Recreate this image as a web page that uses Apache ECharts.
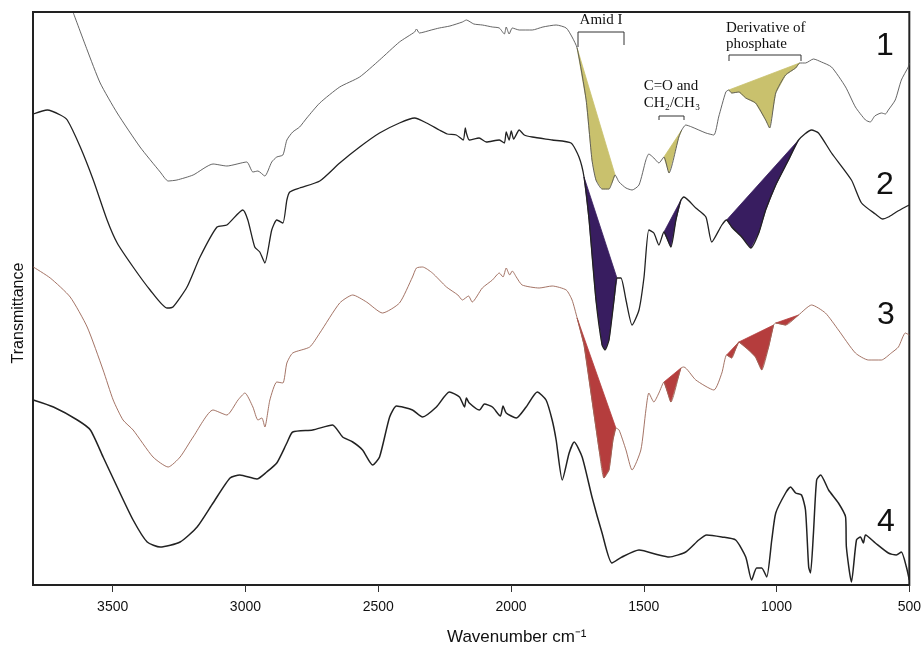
<!DOCTYPE html>
<html>
<head>
<meta charset="utf-8">
<script src="https://cdn.jsdelivr.net/npm/echarts@6/dist/echarts.min.js"></script>
<style>
html,body{margin:0;padding:0;background:#fff;}
#chart{width:924px;height:646px;}
</style>
</head>
<body>
<div id="chart"></div>
<script>
// x: wavenumber (cm-1), y: transmittance (arbitrary units, spectra offset vertically)
const ticks = [3500, 3000, 2500, 2000, 1500, 1000, 500];
const labels = ['1', '2', '3', '4'];

const spec1 = [
[3648,114.4],[3596,107],[3547,100.4],[3483,94.4],[3397,87.6],[3321,82.6],[3291,80.8],[3258,81],[3197,82],[3122,84.2],
[3070,83.8],[2995,84.6],[2972,82.6],[2953,82.8],[2927,81.8],[2901,84.6],[2882,85.6],[2859,86],[2844,89],[2822,90.6],
[2796,91.6],[2769,93.4],[2720,96.4],[2645,99.6],[2570,101.6],[2495,105],[2420,108.6],[2363,110.6],[2356,111.2],[2345,110.4],
[2300,111],[2270,111.4],[2230,111.8],[2183,112.6],[2168,113],[2140,112.2],[2108,112],[2070,111.6],[2044,111.4],[2025,110.2],[2018,111.6],[2007,110.2],[1995,111.4],
[1969,111],[1920,111],[1880,111.6],[1830,112],[1792,111.4],[1770,109.6],[1751,107.4],[1717,97],[1695,85],[1680,81],[1657,79.2],
[1631,79.2],[1620,80.4],[1608,82],[1593,80.6],[1567,79.4],[1544,79],[1518,80],[1492,85],[1481,86.2],[1462,85.4],
[1443,84.4],[1424,85.6],[1405,82.4],[1368,89.6],[1357,91],[1342,92],[1319,91.6],[1266,90.4],[1236,90],[1218,93.6],
[1191,98.6],[1180,99],[1169,98.4],[1142,98.6],[1116,97.4],[1079,96.4],[1041,93],[1026,91.4],[1003,98.4],[966,102],
[928,103.4],[913,104.4],[891,104.4],[861,105.2],[831,104.6],[793,103.6],[740,99.6],[703,95.6],[665,93],[647,92.6],
[630,93.8],[605,94.4],[590,94.2],[579,95],[553,97],[530,101],[504,103.6],[500,104.4]
];

const spec2 = [
[3799,94.2],[3746,95],[3697,94],[3671,93],[3622,87.6],[3573,81],[3521,73],[3483,68.4],[3423,63.6],[3359,59],
[3295,55.4],[3273,55.6],[3220,59.6],[3171,65.6],[3107,71.6],[3070,72],[3010,75],[2991,73],[2965,67.6],[2946,66.6],
[2927,64.4],[2901,71],[2882,73],[2859,72.4],[2844,77],[2833,78.6],[2796,79.4],[2720,80.8],[2645,84.4],[2570,87.6],
[2495,90.4],[2420,92.4],[2363,93.4],[2318,92.4],[2270,91],[2240,90.2],[2206,90],[2180,89],[2172,91.4],[2168,90.4],[2157,89],[2120,89.4],[2093,88.6],
[2044,89],[2025,88.4],[2018,90.6],[2007,89],[1999,90.8],[1990,89.2],[1969,91],[1950,90],[1920,89.6],[1845,89],[1774,88.4],[1744,85.6],
[1725,81.6],[1706,73],[1680,57],[1657,48],[1646,47],[1631,49],[1612,57],[1601,61.4],[1586,61.4],[1567,57],
[1544,52],[1518,55],[1499,61.6],[1481,71],[1462,70.4],[1443,68],[1424,70.6],[1398,67.6],[1379,73],[1360,77],
[1349,77.6],[1304,75.4],[1266,73.6],[1244,68.6],[1206,72],[1188,73],[1169,71.6],[1131,69.6],[1097,67.4],[1067,70.4],
[1041,75],[1003,80],[955,85],[917,89],[868,91],[842,90.4],[793,86.4],[718,81],[680,76.4],[628,74.2],
[600,73.2],[579,73.6],[549,74.6],[515,75.6],[500,76]
];

const spec3 = [
[3799,63.6],[3735,61.4],[3660,57.6],[3596,51.6],[3536,43],[3498,37],[3461,33],[3423,31],[3348,25.6],[3291,23.6],
[3246,25.6],[3197,29.6],[3122,35],[3070,34],[3028,37],[3002,38.4],[2972,35.6],[2953,33],[2938,33.4],[2927,31.6],
[2908,37],[2882,40.6],[2859,40.4],[2844,44.4],[2822,46.4],[2758,47.6],[2720,50.4],[2645,56.4],[2596,58],[2544,56.6],
[2484,54.4],[2420,56.4],[2371,61.6],[2356,63.4],[2333,63.6],[2296,62.4],[2243,59.6],[2200,58],[2183,57],[2160,57.8],[2146,56.6],
[2108,59.4],[2070,61],[2044,62.4],[2030,61.6],[2018,63.4],[2005,62],[1995,62.8],[1980,61.6],[1958,60],[1894,59.4],[1845,59.8],[1792,59],[1770,57],
[1751,53.4],[1725,48],[1695,37],[1668,27],[1650,21.4],[1631,23],[1616,29],[1605,31.4],[1593,31],[1567,27],
[1544,23],[1511,27],[1492,35],[1481,38.4],[1462,36.6],[1443,38.4],[1424,40.6],[1398,36.6],[1360,43.4],[1349,43.6],
[1304,41],[1236,39],[1206,42.4],[1188,46],[1169,45.4],[1142,48.6],[1105,47],[1079,45.6],[1056,43],[1030,47.6],
[1011,52],[1003,52.4],[966,52],[917,54],[868,56],[816,54.4],[767,51],[703,46.4],[654,45],[605,45],
[568,46.4],[541,47.6],[515,50.4],[500,50]
];

const spec4 = [
[3799,37],[3723,35.6],[3633,33],[3584,31],[3536,25.6],[3483,19.6],[3423,13],[3370,8.6],[3321,7.6],[3246,8.6],
[3182,11.6],[3122,16.4],[3058,21.4],[3021,22],[2957,21.2],[2920,22.6],[2882,24.4],[2844,28.4],[2822,30.6],[2747,31],
[2672,32],[2634,29.6],[2596,28.6],[2559,27],[2521,24],[2495,25.6],[2457,33.6],[2431,35.8],[2371,35],[2333,33.6],
[2281,35.6],[2232,38.6],[2194,37.6],[2175,35.6],[2168,37.4],[2157,36.4],[2119,35],[2100,36.2],[2070,35.6],[2040,33.8],[2030,35.8],[2018,34.4],[1980,33.4],[1943,35.6],
[1901,38.6],[1868,37],[1845,33],[1830,29],[1807,21],[1781,26.4],[1762,28.6],[1732,25.6],[1695,17.6],[1657,10.4],
[1620,4.4],[1582,5.6],[1518,7],[1443,6],[1405,5.6],[1342,6.6],[1293,9],[1263,10],[1206,9.6],[1154,9],
[1116,5.6],[1094,1],[1075,3.4],[1056,3.4],[1037,1.6],[1018,9],[1003,14.4],[966,18.4],[947,19.6],[928,18.4],
[906,18],[891,15],[879,3.6],[872,2.4],[861,10.4],[849,21],[834,22],[804,19],[767,16.4],[740,13.6],
[737,7.6],[718,0.6],[699,9],[684,9.6],[673,8.4],[665,10],[628,8.4],[579,6.4],[549,6],[530,6.6],
[511,3.6],[500,1]
];

// shaded bands: [from, to] wavenumbers, closed by a straight chord
const fill1 = [[1751,1608],[1424,1357],[1180,913]];
const fill2 = [[1725,1601],[1424,1360],[1188,917]];
const fill3 = [[1751,1605],[1424,1360],[1188,1142],[1142,1011],[1003,917]];

function polys(spec, ranges) {
  return ranges.map(([a, b]) => spec.filter(p => p[0] <= a && p[0] >= b));
}

function fillSeries(spec, ranges, color) {
  return polys(spec, ranges).map(poly => ({
    type: 'custom',
    z: 1,
    silent: true,
    data: [poly[0]],
    renderItem: function (params, api) {
      return {
        type: 'polygon',
        shape: { points: poly.map(p => api.coord(p)) },
        style: { fill: color, stroke: color, lineWidth: 0.8 }
      };
    }
  }));
}

function lineSeries(spec, color, width) {
  return { type: 'line', data: spec, showSymbol: false, smooth: 0.2, z: 3,
    lineStyle: { color: color, width: width }, silent: true };
}

const chart = echarts.init(document.getElementById('chart'), null, { renderer: 'canvas' });
const serif = '"Liberation Serif", "Times New Roman", serif';
const sans = '"Liberation Sans", Arial, sans-serif';

chart.setOption({
  animation: false,
  backgroundColor: '#ffffff',
  grid: { left: 33, right: 13, top: 12, bottom: 61, show: true, borderColor: '#222', borderWidth: 2, backgroundColor: 'transparent' },
  xAxis: {
    type: 'value', min: 500, max: 3800, inverse: true, interval: 500,
    axisLine: { show: false },
    axisTick: { show: true, length: 7, lineStyle: { color: '#333', width: 1 }, customValues: ticks },
    axisLabel: { customValues: ticks, margin: 15, fontSize: 14, color: '#111', fontFamily: sans,
      formatter: function (v) { return String(v); } },
    splitLine: { show: false }
  },
  yAxis: {
    type: 'value', min: 0, max: 114.6,
    axisLine: { show: false }, axisTick: { show: false }, axisLabel: { show: false }, splitLine: { show: false }
  },
  series: [
    ...fillSeries(spec1, fill1, '#c9c16d'),
    ...fillSeries(spec2, fill2, '#381d60'),
    ...fillSeries(spec3, fill3, '#b53d3d'),
    lineSeries(spec1, '#555555', 0.9),
    lineSeries(spec2, '#222222', 1.3),
    lineSeries(spec3, '#9a6455', 0.9),
    lineSeries(spec4, '#222222', 1.5)
  ],
  graphic: [
    { type: 'text', x: 601, y: 20, style: { text: 'Amid I', font: '15px ' + serif, fill: '#111', textAlign: 'center', textVerticalAlign: 'middle' } },
    { type: 'polyline', shape: { points: [[578,47],[578,32],[624,32],[624,45]] }, style: { stroke: '#333', lineWidth: 1, fill: null } },
    { type: 'text', x: 671, y: 86, style: { text: 'C=O and', font: '15px ' + serif, fill: '#111', textAlign: 'center', textVerticalAlign: 'middle' } },
    { type: 'text', x: 672, y: 103, style: { text: 'CH₂/CH₃', font: '15px ' + serif, fill: '#111', textAlign: 'center', textVerticalAlign: 'middle' } },
    { type: 'polyline', shape: { points: [[659,120],[659,116],[684,116],[684,120]] }, style: { stroke: '#333', lineWidth: 1, fill: null } },
    { type: 'text', x: 726, y: 28, style: { text: 'Derivative of', font: '15px ' + serif, fill: '#111', textAlign: 'left', textVerticalAlign: 'middle' } },
    { type: 'text', x: 726, y: 44, style: { text: 'phosphate', font: '15px ' + serif, fill: '#111', textAlign: 'left', textVerticalAlign: 'middle' } },
    { type: 'polyline', shape: { points: [[729,61],[729,55],[801,55],[801,61]] }, style: { stroke: '#333', lineWidth: 1, fill: null } },
    { type: 'text', x: 885, y: 46, style: { text: labels[0], font: '32px ' + sans, fill: '#111', textAlign: 'center', textVerticalAlign: 'middle' } },
    { type: 'text', x: 885, y: 185, style: { text: labels[1], font: '32px ' + sans, fill: '#111', textAlign: 'center', textVerticalAlign: 'middle' } },
    { type: 'text', x: 886, y: 315, style: { text: labels[2], font: '32px ' + sans, fill: '#111', textAlign: 'center', textVerticalAlign: 'middle' } },
    { type: 'text', x: 886, y: 522, style: { text: labels[3], font: '32px ' + sans, fill: '#111', textAlign: 'center', textVerticalAlign: 'middle' } },
    { type: 'text', x: 19, y: 313, rotation: Math.PI / 2, style: { text: 'Transmittance', font: '16px ' + sans, fill: '#111', textAlign: 'center', textVerticalAlign: 'middle' } },
    { type: 'text', x: 447, y: 637, style: { text: 'Wavenumber cm⁻¹', font: '17px ' + sans, fill: '#111', textAlign: 'left', textVerticalAlign: 'middle' } }
  ]
});
</script>
</body>
</html>
